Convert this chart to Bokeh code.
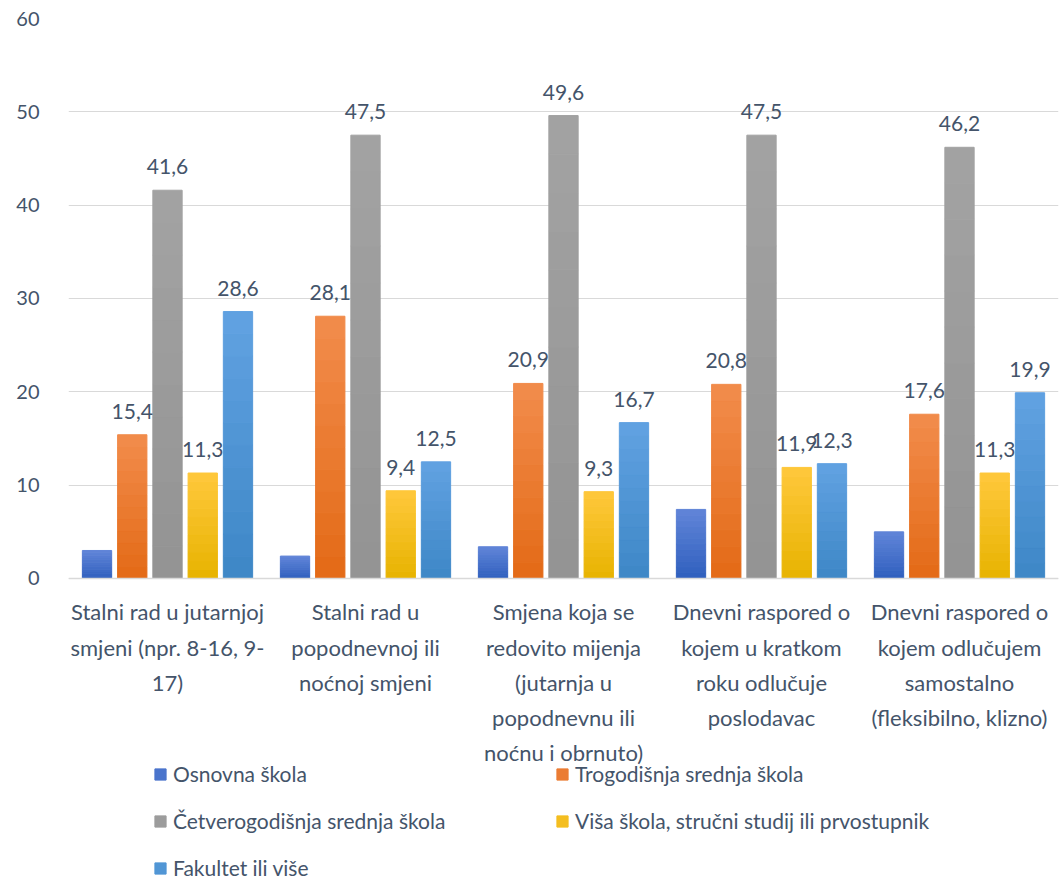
from bokeh.plotting import figure
from bokeh.models import ColumnDataSource, Range1d, FixedTicker, Legend, LegendItem, LabelSet
from bokeh.core.properties import value
from bokeh.embed import file_html
from bokeh.resources import INLINE

categories = [
    "Stalni rad u jutarnjoj\nsmjeni (npr. 8-16, 9-\n17)",
    "Stalni rad u\npopodnevnoj ili\nnoćnoj smjeni",
    "Smjena koja se\nredovito mijenja\n(jutarnja u\npopodnevnu ili\nnoćnu i obrnuto)",
    "Dnevni raspored o\nkojem u kratkom\nroku odlučuje\nposlodavac",
    "Dnevni raspored o\nkojem odlučujem\nsamostalno\n(fleksibilno, klizno)",
]
series_names = [
    "Osnovna škola",
    "Trogodišnja srednja škola",
    "Četverogodišnja srednja škola",
    "Viša škola, stručni studij ili prvostupnik",
    "Fakultet ili više",
]
osnovna = [3.0, 2.4, 3.4, 7.4, 5.0]
trogodisnja = [15.4, 28.1, 20.9, 20.8, 17.6]
cetverogodisnja = [41.6, 47.5, 49.6, 47.5, 46.2]
visa = [11.3, 9.4, 9.3, 11.9, 11.3]
fakultet = [28.6, 12.5, 16.7, 12.3, 19.9]
series_values = [osnovna, trogodisnja, cetverogodisnja, visa, fakultet]
show_labels = [False, True, True, True, True]
y_ticks = [0, 10, 20, 30, 40, 50, 60]

top_colors = ["#6185D8", "#F28C4C", "#A3A3A3", "#FFC83C", "#62A2E2"]
bottom_colors = ["#2F5FBE", "#E36A16", "#939393", "#E7B300", "#3D87C6"]
text_color = "#44546A"
font = "Lato"
N_SLICES = 12


def mix(c1, c2, t):
    a = [int(c1[k:k + 2], 16) for k in (1, 3, 5)]
    b = [int(c2[k:k + 2], 16) for k in (1, 3, 5)]
    return "#" + "".join(f"{round(a[j] + (b[j] - a[j]) * t):02x}" for j in range(3))


# frame spans the whole lower area; the value axis shows 0..60 only,
# the space below 0 holds the category labels and the legend
p = figure(
    width=1059, height=880,
    x_range=Range1d(-0.5, len(categories) - 0.5),
    y_range=Range1d(-32.36, 60),
    output_backend="svg", toolbar_location=None,
    min_border_left=68, min_border_right=1, min_border_top=18, min_border_bottom=0,
)
p.outline_line_color = None
p.background_fill_color = "white"

step = 0.178
bar_w = 0.148
items = []
for i, (name, vals) in enumerate(zip(series_names, series_values)):
    xs = [k + (i - 2) * step for k in range(len(categories))]
    legend_r = None
    for j in range(N_SLICES):
        col = mix(bottom_colors[i], top_colors[i], (j + 0.5) / N_SLICES)
        src_s = ColumnDataSource(dict(
            x=xs,
            bottom=[v * j / N_SLICES for v in vals],
            top=[v * (j + 1) / N_SLICES for v in vals],
        ))
        r = p.vbar(x="x", bottom="bottom", top="top", width=bar_w, source=src_s,
                   fill_color=col, line_color=col, line_width=1)
        if j == N_SLICES // 2:
            legend_r = r
    items.append(LegendItem(label=name, renderers=[legend_r]))
    if show_labels[i]:
        src = ColumnDataSource(dict(
            x=xs, top=vals,
            label=[f"{v:.1f}".replace(".", ",") for v in vals],
        ))
        lab = LabelSet(x="x", y="top", text="label", source=src,
                       text_align="center", text_baseline="alphabetic",
                       y_offset=16, text_font_size="21px",
                       text_font=value(font), text_color=text_color)
        p.add_layout(lab)

p.xaxis.fixed_location = 0
p.xaxis.ticker = FixedTicker(ticks=list(range(len(categories))))
p.xaxis.major_label_overrides = {k: c for k, c in enumerate(categories)}
p.xaxis.major_label_text_font = font
p.xaxis.major_label_text_font_size = "22px"
p.xaxis.major_label_text_color = text_color
p.xaxis.major_label_text_line_height = 1.3
p.xaxis.major_label_standoff = 14
p.xaxis.major_tick_line_color = None
p.xaxis.minor_tick_line_color = None
p.xaxis.axis_line_color = "#D9D9D9"
p.xaxis.axis_line_width = 1.5

p.yaxis.ticker = FixedTicker(ticks=y_ticks)
p.yaxis.major_label_text_font = font
p.yaxis.major_label_text_font_size = "20px"
p.yaxis.major_label_text_color = text_color
p.yaxis.major_label_standoff = 23
p.yaxis.major_tick_line_color = None
p.yaxis.minor_tick_line_color = None
p.yaxis.axis_line_color = None

p.xgrid.grid_line_color = None
p.ygrid.grid_line_color = "#D9D9D9"
p.ygrid.grid_line_width = 1

legend = Legend(items=items, orientation="horizontal", ncols=2,
                location=(85, 0), label_text_font=font,
                label_text_font_size="21px", label_text_color=text_color,
                glyph_width=14, glyph_height=14, label_standoff=6,
                label_width=360, label_height=24, spacing=22, padding=0, margin=0,
                border_line_color=None, background_fill_alpha=0)
p.add_layout(legend, "center")

open("out.html", "w").write(file_html(p, INLINE))
